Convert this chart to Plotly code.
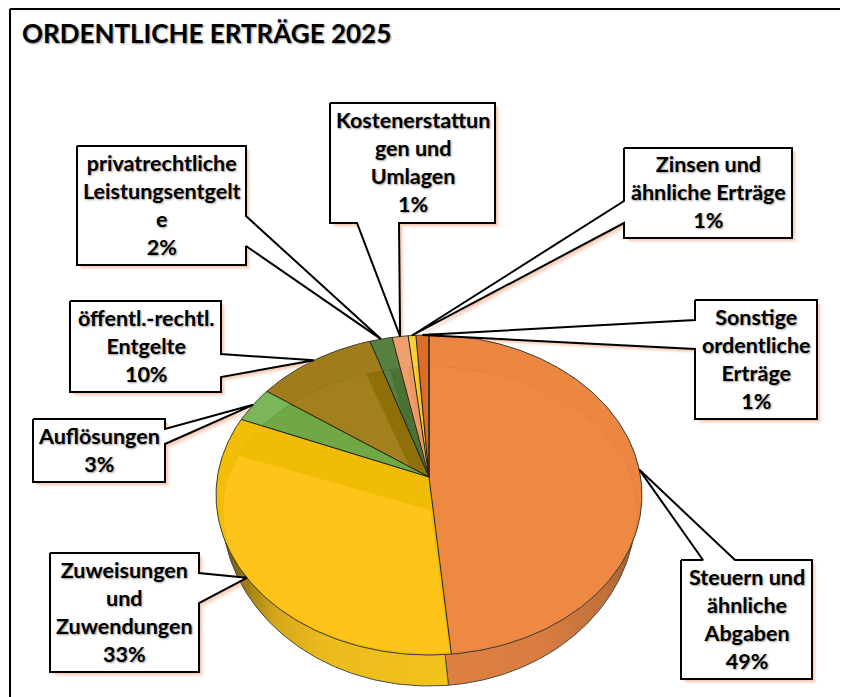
import math
import plotly.graph_objects as go

title = "ORDENTLICHE ERTRÄGE 2025"
categories = ["Steuern und ähnliche Abgaben", "Zuweisungen und Zuwendungen", "Auflösungen",
              "öffentl.-rechtl. Entgelte", "privatrechtliche Leistungsentgelte",
              "Kostenerstattungen und Umlagen", "Zinsen und ähnliche Erträge",
              "Sonstige ordentliche Erträge"]
values = [48.5, 32.7, 3.6, 10.2, 1.9, 1.35, 0.65, 1.1]
percent_labels = ["49%", "33%", "3%", "10%", "2%", "1%", "1%", "1%"]
wrapped_labels = [
    ["Steuern und", "ähnliche", "Abgaben"],
    ["Zuweisungen", "und", "Zuwendungen"],
    ["Auflösungen"],
    ["öffentl.-rechtl.", "Entgelte"],
    ["privatrechtliche", "Leistungsentgelt", "e"],
    ["Kostenerstattun", "gen und", "Umlagen"],
    ["Zinsen und", "ähnliche Erträge"],
    ["Sonstige", "ordentliche", "Erträge"],
]

# styling and layout ------------------------------------------------------
W, H = 848, 697
PAGE = 8   # the page's own body margin
FONT = "Lato"
facet_colors = ["#EE8944", "#FFC41A", "#70A845", "#A3801E", "#55803F", "#F0A06C", "#F7CE3C", "#DB6C2A"]
band_colors = ["#EE8944", "#F0BC05", "#70A845", "#8F7008", "#4A7233", "#EC9866", "#F4C430", "#D96A28"]
rim_colors = ["#EC8742", "#F2BE08", "#7CB65A", "#A07D1B", "#55803F", "#F0A06C", "#F7CE3C", "#DB6C2A"]
facet_line = ["#D87A38", "#E8B312", "#63963C", "#8C6E10", "#4A7233", "#DE8E5A", "#E8B820", "#C45E22"]
wall_grad = [
    [[0, "#E0803F"], [0.55, "#D97D42"], [0.85, "#C0703A"], [1, "#9A5F33"]],
    [[0, "#7E6414"], [0.06, "#7E6414"], [0.13, "#A88618"], [0.24, "#D6A71C"], [0.45, "#EBBB1E"], [1, "#F2C31C"]],
]
# box: left, top, right, bottom; attach: side and the two points on that side
callouts = [
    ((681, 560, 812, 679), "top", (703, 735)),
    ((50, 553, 199, 672), "right", (573, 603)),
    ((33, 419, 165, 482), "right", (429, 444)),
    ((70, 301, 221, 392), "right", (354, 377)),
    ((77, 146, 246, 265), "right", (216, 246)),
    ((330, 103, 495, 223), "bottom", (357, 399)),
    ((624, 148, 792, 238), "left", (201, 223)),
    ((695, 300, 817, 419), "left", (320, 349)),
]
CX, AY = 429, 477          # pie apex
A, B, K = 211.6, 158, 0.1125  # perspective of the top face
ICX, IAY, IA, IB = 430, 510, 207, 143  # inner bevel
LCY, LA, LB = 510, 207, 176   # lower edge of the wall


def rim(t):
    d = 1 + K * math.cos(t)
    return CX + A * math.sin(t) / d, AY - B * math.cos(t) / d


def inner(t):
    return ICX + IA * math.sin(t), IAY - IB * math.cos(t)


def lower(t):
    return CX + LA * math.sin(t), LCY - LB * math.cos(t)


def arc(f, t0, t1, n=None):
    n = n or max(4, int(abs(t1 - t0) * 60))
    return [f(t0 + (t1 - t0) * i / n) for i in range(n + 1)]


def clip(poly, convex):
    """Sutherland-Hodgman; convex is clockwise on screen (y down)."""
    out = poly
    for i in range(len(convex)):
        ax, ay = convex[i]
        bx, by = convex[(i + 1) % len(convex)]
        if abs(ax - bx) < 1e-9 and abs(ay - by) < 1e-9:
            continue
        side = lambda p: (bx - ax) * (p[1] - ay) - (by - ay) * (p[0] - ax)
        src, out = out, []
        for j in range(len(src)):
            p, q = src[j], src[(j + 1) % len(src)]
            sp, sq = side(p), side(q)
            if sp >= 0:
                out.append(p)
            if sp * sq < 0:
                r = sp / (sp - sq)
                out.append((p[0] + (q[0] - p[0]) * r, p[1] + (q[1] - p[1]) * r))
        if not out:
            return []
    return out


def poly_trace(pts, fill=None, line=None, width=1, close=True, **kw):
    xs = [p[0] for p in pts]
    ys = [p[1] for p in pts]
    if close:
        xs.append(xs[0])
        ys.append(ys[0])
    return go.Scatter(
        x=xs, y=ys, mode="lines", hoverinfo="skip", showlegend=False,
        fill="toself" if fill or "fillgradient" in kw else "none",
        fillcolor=fill,
        line=dict(color=line or "rgba(0,0,0,0)", width=width if line else 0),
        **kw,
    )


total = sum(values)
edges = [0.0]
for v in values:
    edges.append(edges[-1] + v / total * 2 * math.pi)
spans = list(zip(edges[:-1], edges[1:]))

fig = go.Figure()

# side wall: only the two front slices show
for (t0, t1), grad in zip(spans[:2], wall_grad):
    pts = [(CX, LCY)] + arc(lower, t0, t1)
    fig.add_trace(poly_trace(pts, line="#4A4A3A", width=1,
                             fillgradient=dict(type="horizontal", colorscale=grad)))

# top face: rim bevel, straight-edge band, inner facet, each clipped to its slice
apex = (CX, AY)
inner_oval = arc(inner, 0, 2 * math.pi, 240)[:-1]
for (t0, t1), rc, band, facet, fl in zip(spans, rim_colors, band_colors, facet_colors, facet_line):
    outer = [apex] + arc(rim, t0, t1)
    fig.add_trace(poly_trace(outer, fill=rc))
    bp = clip(outer, inner_oval)
    if bp:
        fig.add_trace(poly_trace(bp, fill=band, line=fl, width=0.8))
    fp = clip([(ICX, IAY)] + arc(inner, t0, t1), outer)
    if fp:
        fig.add_trace(poly_trace(fp, fill=facet))
for (t0, t1) in spans:
    fig.add_trace(poly_trace(arc(rim, t0, t1), line="#3A3A30", width=1, close=False))
for (t0, t1) in spans:
    fig.add_trace(poly_trace([rim(t1), apex], line="#1E1E14", width=1, close=False))
fig.add_trace(poly_trace([(CX, AY), rim(0)], line="#1E1E14", width=1, close=False))

# callouts, tip on the rim at each slice's middle
def callout_pts(box, side, att, tip):
    l, t, r, b = box
    a0, a1 = att
    if side == "top":
        return [(l, t), (a0, t), tip, (a1, t), (r, t), (r, b), (l, b)]
    if side == "right":
        return [(l, t), (r, t), (r, a0), tip, (r, a1), (r, b), (l, b)]
    if side == "bottom":
        return [(l, t), (r, t), (r, b), (a1, b), tip, (a0, b), (l, b)]
    return [(l, t), (r, t), (r, b), (l, b), (l, a1), tip, (l, a0)]


tips = [rim((t0 + t1) / 2) for t0, t1 in spans]
for (box, side, att), tip in zip(callouts, tips):
    pts = callout_pts(box, side, att, tip)
    for off, alpha in [(5, 0.07), (4, 0.10), (3, 0.14), (2, 0.14)]:
        fig.add_trace(poly_trace([(x + off, y + off) for x, y in pts],
                                 fill=f"rgba(232,130,70,{alpha})"))
for (box, side, att), tip in zip(callouts, tips):
    fig.add_trace(poly_trace(callout_pts(box, side, att, tip), fill="#FFFFFF",
                             line="#000000", width=2))

annotations = [dict(
    x=20, y=33, xref="x", yref="y", xanchor="left", yanchor="middle", showarrow=False,
    text=f"<b>{title}</b>",
    font=dict(family=FONT, size=26, color="#000000", shadow="1px 1px 2px #888888"),
)]
for (box, _, _), lines, pct in zip(callouts, wrapped_labels, percent_labels):
    l, t, r, b = box
    annotations.append(dict(
        x=(l + r) / 2, y=(t + b) / 2 - 1, xref="x", yref="y", xanchor="center", yanchor="middle",
        showarrow=False, align="center",
        text="<b>" + "<br>".join(lines + [pct]) + "</b>",
        font=dict(family=FONT, size=21.5, color="#000000", shadow="1px 1px 2px #999999"),
    ))

frame = dict(color="#000000", width=2)
fig.update_layout(
    width=W + PAGE, height=H, margin=dict(l=0, r=0, t=0, b=0),
    paper_bgcolor="#FFFFFF", plot_bgcolor="#FFFFFF", showlegend=False,
    xaxis=dict(range=[PAGE, W + 2 * PAGE], visible=False, fixedrange=True),
    yaxis=dict(range=[H + PAGE, PAGE], visible=False, fixedrange=True),
    annotations=annotations,
    shapes=[
        dict(type="line", xref="x", yref="y", x0=10, y0=9, x1=W + 2 * PAGE, y1=9, line=frame),
        dict(type="line", xref="x", yref="y", x0=10, y0=9, x1=10, y1=H + PAGE, line=frame),
    ],
)
fig.write_html("out.html")
